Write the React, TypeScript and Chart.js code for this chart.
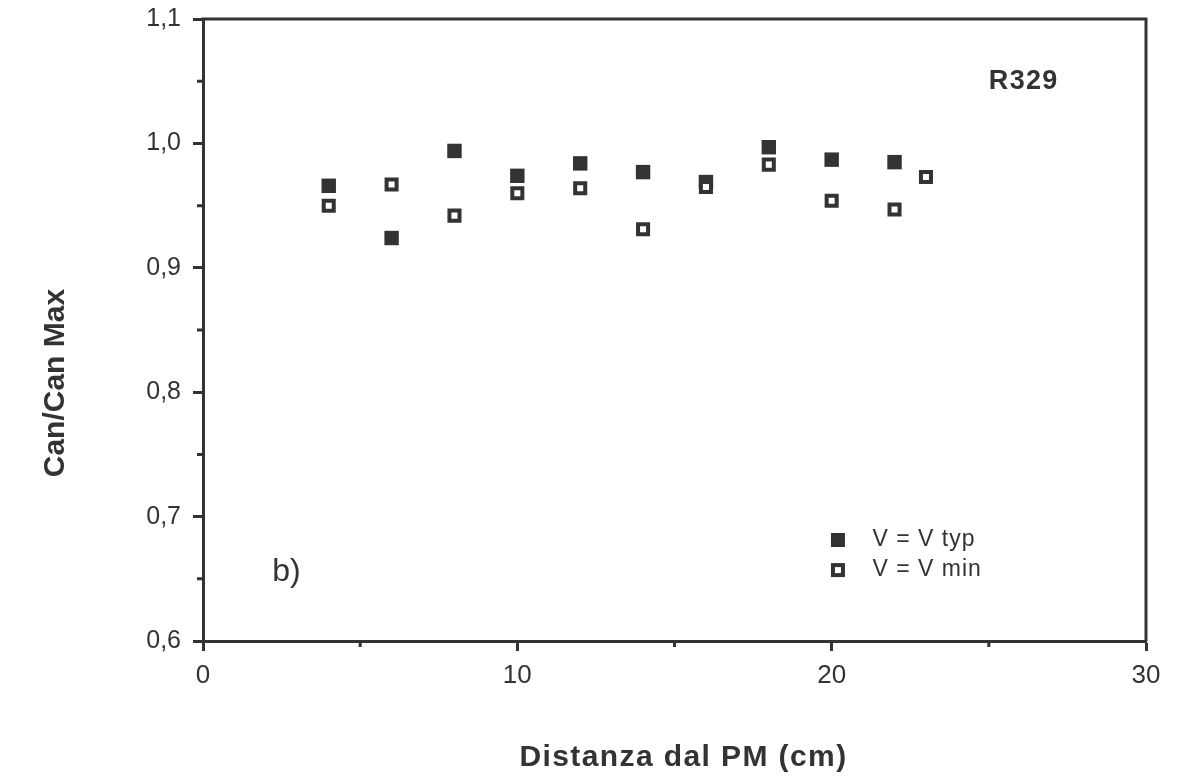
import React, { useEffect, useRef } from "react";
import { Chart, registerables } from "chart.js";

Chart.register(...registerables);

// ---- data ----
const xTyp = [4, 6, 8, 10, 12, 14, 16, 18, 20, 22];
const vTyp = [0.966, 0.924, 0.994, 0.974, 0.984, 0.977, 0.969, 0.997, 0.987, 0.985];
const xMin = [4, 6, 8, 10, 12, 14, 16, 18, 20, 22, 23];
const vMin = [0.950, 0.967, 0.942, 0.960, 0.964, 0.931, 0.965, 0.983, 0.954, 0.947, 0.973];
const xTickValues = [0, 10, 20, 30];
const yTickValues = [0.6, 0.7, 0.8, 0.9, 1.0, 1.1];
const xMinorTicks = [5, 15, 25];
const yMinorTicks = [0.65, 0.75, 0.85, 0.95, 1.05];
const legendLabels = ["V = V typ", "V = V min"];
const xTitle = "Distanza dal PM (cm)";
const yTitle = "Can/Can Max";
const tagLabel = "R329";
const panelLabel = "b)";

const INK = "#333333";
const FONT = "'Liberation Sans', Arial, Helvetica, sans-serif";

const decorPlugin = {
  id: "decor",
  afterDraw(chart: any) {
    const { ctx, chartArea: a, scales } = chart;
    const xs = scales.x;
    const ys = scales.y;
    ctx.save();
    ctx.strokeStyle = INK;
    ctx.lineWidth = 3;
    // top & right frame
    ctx.beginPath();
    ctx.moveTo(a.left - 1.5, a.top);
    ctx.lineTo(a.right, a.top);
    ctx.lineTo(a.right, a.bottom);
    ctx.stroke();
    // minor ticks
    ctx.beginPath();
    for (const v of xMinorTicks) {
      const px = xs.getPixelForValue(v);
      ctx.moveTo(px, a.bottom);
      ctx.lineTo(px, a.bottom + 6);
    }
    for (const v of yMinorTicks) {
      const py = ys.getPixelForValue(v);
      ctx.moveTo(a.left, py);
      ctx.lineTo(a.left - 6, py);
    }
    ctx.stroke();

    ctx.fillStyle = INK;
    ctx.textBaseline = "middle";
    ctx.textAlign = "left";
    // tag
    ctx.font = `bold 27px ${FONT}`;
    (ctx as any).letterSpacing = "1.3px";
    ctx.fillText(tagLabel, xs.getPixelForValue(25.0), ys.getPixelForValue(1.05));
    // panel label
    (ctx as any).letterSpacing = "0px";
    ctx.font = `32px ${FONT}`;
    ctx.fillText(panelLabel, xs.getPixelForValue(2.2), ys.getPixelForValue(0.6555));

    // legend
    const lx = xs.getPixelForValue(20.2);
    const ly1 = ys.getPixelForValue(0.6812);
    const ly2 = ys.getPixelForValue(0.657);
    ctx.fillRect(lx - 7, ly1 - 7, 14, 14);
    ctx.lineWidth = 4;
    ctx.strokeRect(lx - 5, ly2 - 5, 10, 10);
    ctx.font = `23px ${FONT}`;
    (ctx as any).letterSpacing = "1px";
    const tx = xs.getPixelForValue(21.3);
    ctx.fillText(legendLabels[0], tx, ly1);
    ctx.fillText(legendLabels[1], tx, ly2);

    // axis titles
    ctx.font = `bold 30px ${FONT}`;
    ctx.textAlign = "center";
    (ctx as any).letterSpacing = "1.4px";
    ctx.fillText(xTitle, (a.left + a.right) / 2 + 9, a.bottom + 117);
    (ctx as any).letterSpacing = "0px";
    ctx.save();
    ctx.translate(48, (a.top + a.bottom) / 2 + 53);
    ctx.rotate(-Math.PI / 2);
    ctx.fillText(yTitle, 0, 0);
    ctx.restore();
    ctx.restore();
  },
};

export default function App() {
  const ref = useRef<HTMLCanvasElement | null>(null);
  useEffect(() => {
    if (!ref.current) return;
    const chart = new Chart(ref.current, {
      type: "scatter",
      data: {
        datasets: [
          {
            label: legendLabels[0],
            data: xTyp.map((x, i) => ({ x, y: vTyp[i] })),
            pointStyle: "rect",
            pointRadius: 10.2,
            backgroundColor: INK,
            borderColor: INK,
            borderWidth: 0,
            order: 1,
          },
          {
            label: legendLabels[1],
            data: xMin.map((x, i) => ({ x, y: vMin[i] })),
            pointStyle: "rect",
            pointRadius: 7.1,
            backgroundColor: "#ffffff",
            borderColor: INK,
            borderWidth: 4,
            order: 0,
          },
        ],
      },
      options: {
        responsive: false,
        animation: false,
        devicePixelRatio: 1,
        layout: { padding: { top: 11, right: 24, left: 0, bottom: 0 } },
        plugins: {
          legend: { display: false },
          tooltip: { enabled: false },
        },
        scales: {
          x: {
            type: "linear",
            min: 0,
            max: 30,
            afterFit: (s: any) => {
              s.height = 134;
              s.paddingLeft = 0;
              s.paddingRight = 0;
            },
            afterBuildTicks: (s: any) => {
              s.ticks = xTickValues.map((v) => ({ value: v }));
            },
            ticks: {
              color: INK,
              font: { family: FONT, size: 26 },
              padding: 9,
              maxRotation: 0,
              callback: (v: any) => String(v),
            },
            grid: {
              drawOnChartArea: false,
              drawTicks: true,
              tickLength: 10,
              tickWidth: 3,
              tickColor: INK,
            },
            border: { display: true, color: INK, width: 3 },
          },
          y: {
            type: "linear",
            min: 0.6,
            max: 1.1,
            afterFit: (s: any) => {
              s.width = 195;
              s.paddingTop = 0;
              s.paddingBottom = 0;
            },
            afterBuildTicks: (s: any) => {
              s.ticks = yTickValues.map((v) => ({ value: v }));
            },
            ticks: {
              color: INK,
              font: { family: FONT, size: 25, lineHeight: 1 },
              padding: 12,
              callback: (v: any) => Number(v).toFixed(1).replace(".", ","),
            },
            grid: {
              drawOnChartArea: false,
              drawTicks: true,
              tickLength: 10,
              tickWidth: 3,
              tickColor: INK,
            },
            border: { display: true, color: INK, width: 3 },
          },
        },
      },
      plugins: [decorPlugin],
    });
    return () => chart.destroy();
  }, []);
  return (
    <div style={{ width: 1162, height: 767 }}>
      <canvas ref={ref} width={1162} height={767} style={{ display: "block" }} />
    </div>
  );
}
